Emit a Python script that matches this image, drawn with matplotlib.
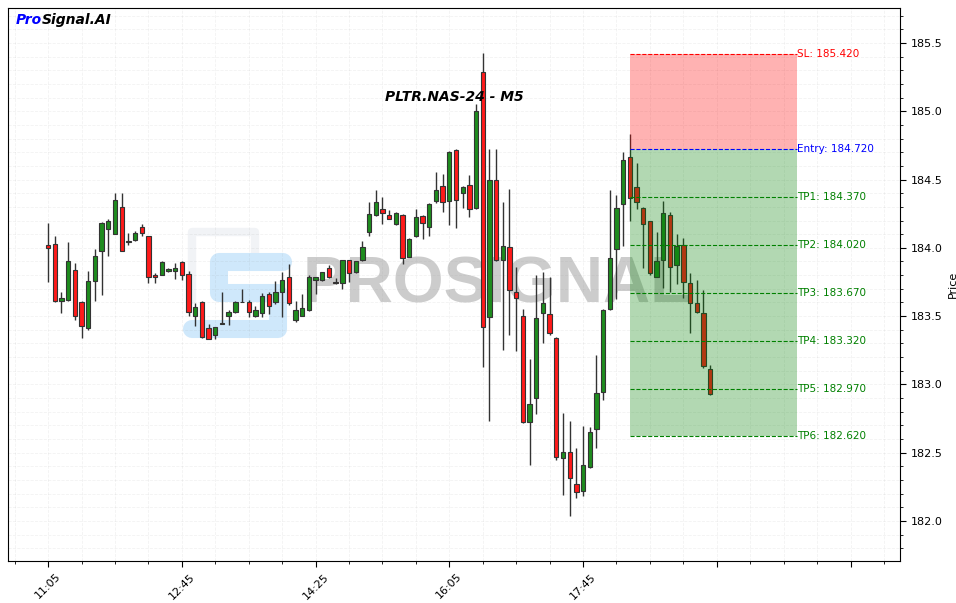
import numpy as np
import pandas as pd
import matplotlib
matplotlib.use("Agg")
from matplotlib import pyplot as plt
from matplotlib.ticker import MultipleLocator, FixedLocator, FixedFormatter

# --- candle data (PLTR.NAS-24, M5) ---
opens = [184.02, 184.03, 183.61, 183.62, 183.84, 183.60, 183.41, 183.76, 183.975, 184.14,
         184.10, 184.30, 184.04, 184.06, 184.15, 184.09, 183.80, 183.80, 183.83, 183.83,
         183.895, 183.81, 183.50, 183.60, 183.41, 183.36, 183.445, 183.50, 183.53, 183.60,
         183.60, 183.50, 183.52, 183.66, 183.60, 183.675, 183.785, 183.47, 183.50, 183.545,
         183.765, 183.765, 183.85, 183.75, 183.74, 183.91, 183.82, 183.91, 184.115, 184.24,
         184.285, 184.24, 184.175, 184.24, 183.93, 184.085, 184.23, 184.15, 184.34, 184.45,
         184.34, 184.715, 184.40, 184.46, 184.29, 185.29, 183.49, 184.50, 183.91, 184.005,
         183.68, 183.50, 182.725, 182.90, 183.52, 183.515, 183.34, 182.46, 182.505, 182.27,
         182.22, 182.395, 182.67, 182.945, 183.55, 183.99, 184.32, 184.665, 184.445, 184.29,
         184.195, 183.79, 183.91, 184.24, 183.875, 184.02, 183.74, 183.595, 183.52, 183.11]
highs = [184.18, 184.09, 183.68, 184.04, 183.89, 183.61, 183.83, 183.99, 184.19, 184.21,
         184.40, 184.40, 184.11, 184.12, 184.175, 184.09, 183.815, 183.905, 183.85, 183.89,
         183.90, 183.83, 183.595, 183.61, 183.44, 183.42, 183.68, 183.545, 183.61, 183.70,
         183.62, 183.575, 183.67, 183.675, 183.76, 183.82, 183.88, 183.61, 183.66, 183.80,
         183.79, 183.825, 183.875, 183.78, 183.91, 183.91, 183.905, 184.05, 184.335, 184.42,
         184.37, 184.28, 184.26, 184.25, 184.07, 184.285, 184.24, 184.325, 184.555, 184.54,
         184.71, 184.72, 184.45, 184.53, 185.05, 185.425, 184.72, 184.72, 184.335, 184.43,
         183.86, 183.55, 183.185, 183.80, 183.82, 183.79, 183.345, 182.79, 182.73, 182.535,
         182.695, 182.69, 183.215, 183.55, 184.42, 184.39, 184.70, 184.83, 184.62, 184.30,
         184.20, 184.115, 184.34, 184.26, 184.10, 184.07, 183.815, 183.765, 183.69, 183.14]
lows = [183.75, 183.60, 183.52, 183.61, 183.47, 183.34, 183.40, 183.61, 183.655, 183.94,
        184.10, 183.98, 184.02, 184.05, 184.09, 183.74, 183.745, 183.80, 183.825, 183.77,
        183.765, 183.50, 183.43, 183.34, 183.33, 183.33, 183.44, 183.435, 183.52, 183.60,
        183.49, 183.49, 183.49, 183.515, 183.59, 183.49, 183.58, 183.46, 183.50, 183.54,
        183.66, 183.76, 183.78, 183.735, 183.70, 183.75, 183.815, 183.905, 184.09, 184.235,
        184.175, 184.21, 184.165, 183.88, 183.93, 184.08, 184.065, 184.085, 184.33, 184.26,
        184.17, 184.145, 184.29, 184.225, 184.285, 183.13, 182.73, 183.90, 183.25, 183.36,
        183.245, 182.72, 182.41, 182.78, 183.30, 183.36, 182.45, 182.19, 182.04, 182.165,
        182.18, 182.39, 182.535, 182.885, 183.545, 183.625, 184.01, 184.195, 184.285, 183.85,
        183.80, 183.785, 183.705, 183.675, 183.735, 183.63, 183.38, 183.52, 183.12, 182.925]
closes = [184.00, 183.61, 183.63, 183.90, 183.50, 183.43, 183.76, 183.94, 184.18, 184.20,
          184.35, 183.98, 184.05, 184.11, 184.11, 183.79, 183.785, 183.895, 183.845, 183.85,
          183.80, 183.53, 183.57, 183.35, 183.33, 183.42, 183.45, 183.53, 183.60, 183.605,
          183.53, 183.545, 183.65, 183.575, 183.68, 183.765, 183.595, 183.545, 183.56, 183.785,
          183.785, 183.82, 183.785, 183.745, 183.91, 183.815, 183.90, 184.005, 184.25, 184.335,
          184.255, 184.21, 184.255, 183.925, 184.065, 184.225, 184.18, 184.32, 184.42, 184.335,
          184.70, 184.35, 184.445, 184.285, 185.00, 183.42, 184.50, 183.91, 184.01, 183.69,
          183.63, 182.725, 182.86, 183.485, 183.595, 183.375, 182.47, 182.505, 182.315, 182.21,
          182.41, 182.655, 182.94, 183.545, 183.925, 184.29, 184.64, 184.365, 184.335, 184.175,
          183.815, 183.90, 184.255, 183.86, 184.01, 183.75, 183.595, 183.53, 183.135, 182.93]

times = pd.date_range("2024-01-01 11:05", periods=len(opens), freq="5min").strftime("%H:%M")

# --- signal levels ---
entry = 184.72
sl = 185.42
tps = [184.37, 184.02, 183.67, 183.32, 182.97, 182.62]
signal_idx = 87
zone_len = 25

symbol = "PLTR.NAS-24 - M5"

# --- figure ---
W, H = 956, 603
fig = plt.figure(figsize=(W / 100, H / 100), dpi=100)
ax = fig.add_axes([8 / W, 1 - 561 / H, 892 / W, 553 / H])

x = np.arange(len(opens))
o = np.array(opens); h = np.array(highs); l = np.array(lows); c = np.array(closes)
up = c >= o
col = np.where(up, "#1e8c1e", "#ff1a1a")
bottoms = np.minimum(o, c)
heights = np.maximum(np.abs(c - o), 0.006)

ax.vlines(x, l, h, color="#333333", lw=1.0, zorder=2)
ax.bar(x, heights, bottom=bottoms, width=0.65, color=col, edgecolor="#333333", lw=0.8, zorder=3)

# --- trade zone (drawn over the candles) ---
x0, x1 = signal_idx, signal_idx + zone_len
ax.fill_between([x0, x1], entry, sl, color="red", alpha=0.3, lw=0, zorder=4)
ax.fill_between([x0, x1], tps[-1], entry, color="green", alpha=0.3, lw=0, zorder=4)
ax.hlines(sl, x0, x1, colors="red", linestyles="--", lw=0.8, zorder=5)
ax.hlines(entry, x0, x1, colors="blue", linestyles="--", lw=0.8, zorder=5)
ax.text(x1, sl, f"SL: {sl:.3f}", color="red", fontsize=7.5, va="center", ha="left", zorder=6)
ax.text(x1, entry, f"Entry: {entry:.3f}", color="blue", fontsize=7.5, va="center", ha="left", zorder=6)
for i, tp in enumerate(tps):
    ax.hlines(tp, x0, x1, colors="green", linestyles="--", lw=0.8, zorder=5)
    ax.text(x1, tp, f"TP{i + 1}: {tp:.3f}", color="green", fontsize=7.5, va="center", ha="left", zorder=6)

# --- watermark ---
ax.text(0.548, 0.499, "PROSIGNAL", transform=ax.transAxes, fontsize=47, fontweight="bold",
        family="Liberation Sans", color="#9a9a9a", alpha=0.5, ha="center", va="center", zorder=1)
px = np.array([283, 219, 219, 278, 278, 192])
py = np.array([262, 262, 293, 293, 329, 329])
ax.plot(px / W, 1 - py / H, transform=fig.transFigure, color="#cfe8fb", lw=13,
        solid_joinstyle="round", solid_capstyle="round", zorder=0.5)
qx = np.array([192, 192, 255, 255])
qy = np.array([300, 232, 232, 262])
ax.plot(qx / W, 1 - qy / H, transform=fig.transFigure, color="#f1f3f6", lw=6,
        solid_joinstyle="round", solid_capstyle="round", zorder=0.4)

# --- titles ---
ax.text(0.5, 0.839, symbol, transform=ax.transAxes, fontsize=10, fontweight="bold",
        style="italic", ha="center", va="center", zorder=7)
t1 = ax.text(0.009, 0.991, "Pro", transform=ax.transAxes, fontsize=10, fontweight="bold",
             style="italic", color="blue", ha="left", va="top", zorder=7)
ax.annotate("Signal.AI", xy=(1, 0), xycoords=t1, fontsize=10, fontweight="bold",
            style="italic", color="black", ha="left", va="bottom", zorder=7)

# --- axes ---
ax.set_xlim(-6, 127.4)
ax.set_ylim(181.707, 185.756)
major = list(range(0, 121, 20))
ax.xaxis.set_major_locator(FixedLocator(major))
ax.xaxis.set_major_formatter(FixedFormatter([times[i] if i < len(times) else "" for i in major]))
ax.xaxis.set_minor_locator(MultipleLocator(5))
plt.setp(ax.get_xticklabels(), rotation=45, fontsize=8)

ax.yaxis.tick_right()
ax.yaxis.set_label_position("right")
ax.yaxis.set_major_locator(MultipleLocator(0.5))
ax.yaxis.set_minor_locator(MultipleLocator(0.1))
ax.yaxis.set_major_formatter(matplotlib.ticker.FormatStrFormatter("%.1f"))
ax.tick_params(axis="both", which="major", labelsize=8, length=4)
ax.tick_params(axis="both", which="minor", length=2)
ax.set_ylabel("Price", fontsize=8)

ax.grid(True, which="both", color="gray", alpha=0.1, ls="--", lw=0.6)
ax.set_axisbelow(True)

fig.savefig("out.png", dpi=100)
